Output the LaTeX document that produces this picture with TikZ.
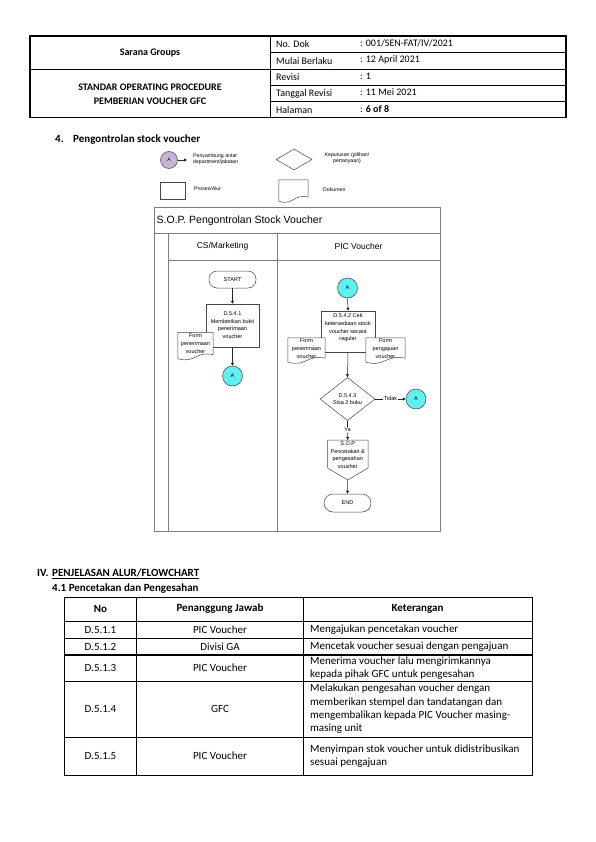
\documentclass[tikz,border=0pt]{standalone}
\usepackage{fontspec}
\setmainfont{Carlito}
\newfontfamily\arial{Liberation Sans}
\usetikzlibrary{arrows.meta,shapes.geometric,calc}
\definecolor{cyanA}{RGB}{95,240,240}
\definecolor{lavA}{RGB}{195,180,215}
\definecolor{frm}{RGB}{125,125,125}
\definecolor{shp}{RGB}{70,70,70}
\tikzset{
  hdr/.style={font=\fontsize{10}{12}\selectfont, inner sep=0pt},
  hdrb/.style={font=\bfseries\fontsize{10}{14}\selectfont, inner sep=0pt, align=center},
  tab/.style={font=\fontsize{11}{13.4}\selectfont, inner sep=0pt},
  tabb/.style={font=\bfseries\fontsize{11}{13.4}\selectfont, inner sep=0pt},
  fc/.style={font=\arial\fontsize{5.5}{7.7}\selectfont, align=center, inner sep=0pt},
  lg/.style={font=\arial\fontsize{5.2}{6.5}\selectfont, inner sep=0pt},
  procbox/.style={draw=shp, fill=white, line width=0.5pt, inner sep=0pt},
  docnode/.style={inner sep=0pt},
  connA/.style={draw=shp, circle, fill=cyanA, minimum size=20pt, inner sep=0pt, line width=0.5pt, font=\arial\fontsize{5.5}{6}\selectfont},
  term/.style={draw=shp, fill=white, rounded corners=8pt, rectangle, minimum width=47pt, minimum height=17pt, inner sep=0pt, line width=0.5pt, font=\arial\fontsize{5.5}{6}\selectfont},
  arr/.style={draw=black!85, line width=0.5pt, -{Triangle[length=3pt,width=3pt]}},
  ln/.style={draw=black!85, line width=0.5pt},
  frame/.style={draw=frm, line width=0.9pt}
}
\newcommand{\docpath}[1]{\draw[shp, fill=white, line width=0.5pt] (#1.north west) -- (#1.north east) -- ($(#1.south east)+(0,-3)$) .. controls ($(#1.south)+(0,-7)$) and ($(#1.south)+(0,6)$) .. ($(#1.south west)+(0,1)$) -- cycle;}
\begin{document}
\begin{tikzpicture}[x=1pt,y=-1pt]
\useasboundingbox[fill=white] (0,0) rectangle (595,842);

% ---------- header table ----------
\draw[line width=0.6pt] (270,36) -- (270,117.5);
\draw[line width=0.6pt] (30,69) -- (566,69);
\draw[line width=0.6pt] (270,52.3) -- (566,52.3);
\draw[line width=0.6pt] (270,85) -- (566,85);
\draw[line width=0.6pt] (270,101.2) -- (566,101.2);
\draw[line width=1.2pt] (30,36) rectangle (566,117.5);

\node[hdrb] (h1) at (150,53) {Sarana Groups};
\node[hdrb] (h2) at (150,94) {STANDAR OPERATING PROCEDURE\\PEMBERIAN VOUCHER GFC};
\node[hdr, anchor=west] (l1) at (276,44.5) {No. Dok};
\node[hdr, anchor=west] (l2) at (276,61) {Mulai Berlaku};
\node[hdr, anchor=west] (l3) at (276,77) {Revisi};
\node[hdr, anchor=west] (l4) at (276,93.5) {Tanggal Revisi};
\node[hdr, anchor=west] (l5) at (276,110) {Halaman};
\node[hdr, anchor=west] (v1) at (360,43.5) {: 001/SEN-FAT/IV/2021};
\node[hdr, anchor=west] (v2) at (360,60) {: 12 April 2021};
\node[hdr, anchor=west] (v3) at (360,76) {: 1};
\node[hdr, anchor=west] (v4) at (360,92.5) {: 11 Mei 2021};
\node[hdr, anchor=west] (v5) at (360,109) {: \textbf{6 of 8}};

% ---------- section title ----------
\node[tabb, anchor=base west] (s4n) at (55,142.5) {4.};
\node[tabb, anchor=base west] (s4t) at (73,142.5) {Pengontrolan stock voucher};

% ---------- legend ----------
\node[draw=shp, circle, fill=lavA, minimum size=17pt, inner sep=0pt, line width=0.5pt, font=\arial\fontsize{5}{6}\selectfont] (lgA) at (169,160) {A};
\coordinate (lgAe) at (187,160);
\draw[arr] (lgA.east) -- (lgAe);
\node[lg, anchor=west, align=left] (lgAt) at (193,159) {Penyambung antar\\department/jabatan};
\node[draw=shp, diamond, minimum width=36pt, minimum height=21pt, inner sep=0pt, line width=0.5pt] (lgD) at (294,159.5) {};
\node[lg, align=center] (lgDt) at (347,158) {Keputusan (pilihan/\\pertanyaan)};
\node[procbox, minimum width=25pt, minimum height=17pt] (lgP) at (172.5,190.5) {};
\node[lg, anchor=west] (lgPt) at (194,188.5) {Proses/Alur};
\node[docnode, minimum width=29pt, minimum height=20pt] (lgDoc) at (293.5,190) {};
\docpath{lgDoc}
\node[lg, anchor=west] (lgDoct) at (323,190) {Dokumen};

% ---------- flowchart frame ----------
\draw[frame] (154,207.7) rectangle (440,531);
\draw[frame] (154,233) -- (440,233);
\draw[frame] (168,260) -- (440,260);
\draw[frame] (168,233) -- (168,531);
\draw[frame] (277,233) -- (277,531);
\node[font=\arial\fontsize{10.5}{12}\selectfont, anchor=west, inner sep=0pt] (ttl) at (156.5,220.5) {S.O.P. Pengontrolan Stock Voucher};
\node[font=\arial\fontsize{8.5}{10}\selectfont, inner sep=0pt] (lane1) at (222.5,246.5) {CS/Marketing};
\node[font=\arial\fontsize{8.5}{10}\selectfont, inner sep=0pt] (lane2) at (358.5,246.5) {PIC Voucher};

% ---------- left lane ----------
\node[term] (start) at (232.5,279.5) {START};
\node[procbox, minimum width=53pt, minimum height=43pt, fc] (b1) at (232.5,325.5) {};
\node[fc] (b1t) at (232.5,325) {D.5.4.1\\Memberikan bukti\\penerimaan\\voucher};
\node[docnode, minimum width=35pt, minimum height=25pt] (d1) at (195.5,345) {};
\docpath{d1}
\node[fc] (d1t) at (195.5,343.5) {Form\\penerimaan\\voucher};
\node[connA] (A1) at (232.5,376) {A};
\draw[arr] (start.south) -- (b1.north);
\draw[arr] (b1.south) -- (A1.north);

% ---------- right lane ----------
\node[connA] (A2) at (347.5,288) {A};
\node[procbox, minimum width=54pt, minimum height=41pt] (b2) at (348,331.5) {};
\node[fc] (b2t) at (348,328) {D.5.4.2 Cek\\ketersediaan stock\\voucher secara\\reguler};
\node[docnode, minimum width=37pt, minimum height=23pt] (d2) at (306.5,349.5) {};
\docpath{d2}
\node[fc] (d2t) at (306.5,348.5) {Form\\penerimaan\\voucher};
\node[docnode, minimum width=39pt, minimum height=23pt] (d3) at (385.5,349.5) {};
\docpath{d3}
\node[fc] (d3t) at (385.5,348.5) {Form\\pengajuan\\voucher};
\node[draw=shp, diamond, minimum width=55pt, minimum height=43pt, inner sep=0pt, line width=0.5pt, fill=white] (dia) at (347.5,399) {};
\node[fc] (diat) at (347.5,399) {D.5.4.3\\Sisa 2 buku};
\node[fc, fill=white, inner sep=0.5pt] (tidak) at (390.5,399) {Tidak};
\node[connA] (A3) at (416,399) {A};
\node[fc, fill=white, inner sep=0.5pt] (ya) at (347.5,430) {Ya};
\coordinate (sopT) at (347.75,440);
\coordinate (sopB) at (347.75,480);
\draw[shp, fill=white, line width=0.5pt] (327.5,440) -- (368,440) -- (368,468) -- (sopB) -- (327.5,468) -- cycle;
\node[fc] (sopt) at (347.75,455) {S.O.P\\Pencetakan \&\\pengesahan\\voucher};
\node[term, minimum height=18pt, rounded corners=9pt] (end) at (347.5,503) {END};

\draw[arr] (A2.south) -- (b2.north);
\draw[arr] (b2.south) -- (dia.north);
\draw[ln] (dia.east) -- (tidak.west);
\draw[arr] (tidak.east) -- (A3.west);
\draw[ln] (dia.south) -- (ya.north);
\draw[arr] (ya.south) -- (sopT);
\draw[arr] (sopB) -- (end.north);

% ---------- section IV ----------
\node[tabb, anchor=base west] (s5n) at (37,576.5) {IV.};
\node[tabb, anchor=base west] (s5t) at (52,576.5) {\underline{PENJELASAN ALUR/FLOWCHART}};
\node[tabb, anchor=base west] (s51) at (52,591.5) {4.1 Pencetakan dan Pengesahan};

% ---------- table ----------
\draw[line width=0.9pt] (64.3,597) rectangle (532,775);
\draw[line width=0.9pt] (136.7,597) -- (136.7,775);
\draw[line width=0.9pt] (303,597) -- (303,775);
\draw[line width=0.9pt] (64.3,621) -- (532,621);
\draw[line width=0.9pt] (64.3,638) -- (532,638);
\draw[line width=1.8pt] (64.3,655) -- (532,655);
\draw[line width=0.9pt] (64.3,681) -- (532,681);
\draw[line width=0.9pt] (64.3,737) -- (532,737);

\node[tabb] (th1) at (100.5,609) {No};
\node[tabb] (th2) at (220,609) {Penanggung Jawab};
\node[tabb] (th3) at (417.5,609) {Keterangan};

\node[tab] (r1a) at (100.5,629.5) {D.5.1.1};
\node[tab] (r1b) at (220,629.5) {PIC Voucher};
\node[tab, anchor=west] (r1c) at (310,629.5) {Mengajukan pencetakan voucher};
\node[tab] (r2a) at (100.5,646.5) {D.5.1.2};
\node[tab] (r2b) at (220,646.5) {Divisi GA};
\node[tab, anchor=west] (r2c) at (310,646.5) {Mencetak voucher sesuai dengan pengajuan};
\node[tab] (r3a) at (100.5,668) {D.5.1.3};
\node[tab] (r3b) at (220,668) {PIC Voucher};
\node[tab, anchor=west, align=left] (r3c) at (310,668) {Menerima voucher lalu mengirimkannya\\kepada pihak GFC untuk pengesahan};
\node[tab] (r4a) at (100.5,709) {D.5.1.4};
\node[tab] (r4b) at (220,709) {GFC};
\node[tab, anchor=west, align=left] (r4c) at (310,709) {Melakukan pengesahan voucher dengan\\memberikan stempel dan tandatangan dan\\mengembalikan kepada PIC Voucher masing-\\masing unit};
\node[tab] (r5a) at (100.5,756) {D.5.1.5};
\node[tab] (r5b) at (220,756) {PIC Voucher};
\node[tab, anchor=west, align=left] (r5c) at (310,756) {Menyimpan stok voucher untuk didistribusikan\\sesuai pengajuan};
\end{tikzpicture}
\end{document}
